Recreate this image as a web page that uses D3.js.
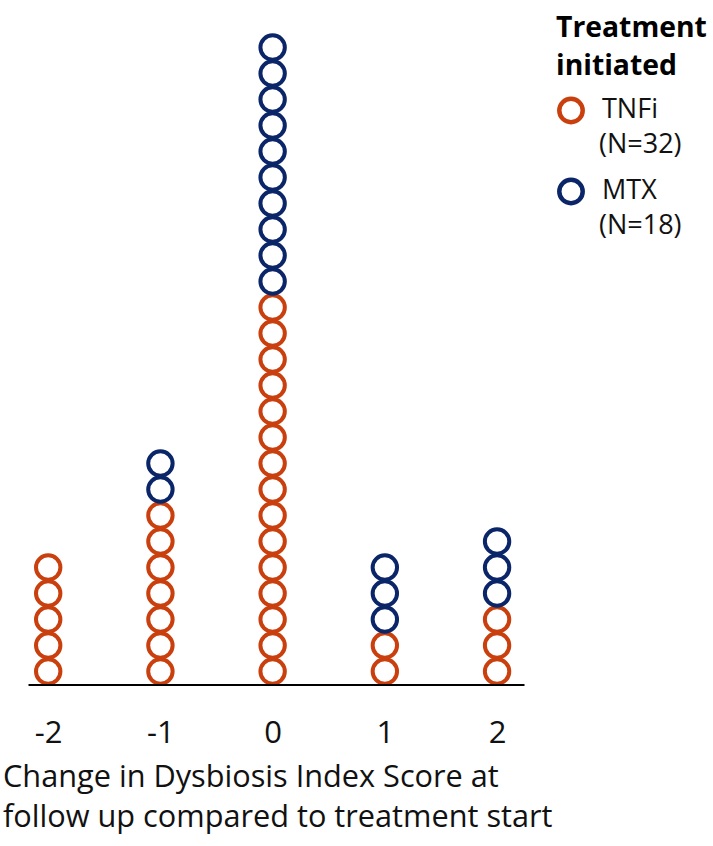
<!DOCTYPE html>
<html lang="en">
<head>
  <meta charset="UTF-8">
  <title>Dysbiosis Index dot plot</title>
  <style>
    body { margin: 0; background: #fff; }
    svg { display: block; font-family: "Open Sans", Lato, sans-serif; }
    .axis path { stroke: #000; stroke-width: 2.2px; }
    .axis text { font-family: "Open Sans", sans-serif; font-size: 31px; fill: #111; }
    .dot { fill: none; stroke-width: 4px; }
  </style>
</head>
<body>
  <div id="chart"></div>
  <script src="https://d3js.org/d3.v7.min.js"></script>
  <script>
    // data
    var scores = [-2, -1, 0, 1, 2]
    var tickLabels = ['-2', '-1', '0', '1', '2']
    var tnfiCounts = [5, 7, 15, 2, 3]
    var mtxCounts = [0, 2, 10, 3, 3]
    var seriesNames = ['TNFi', 'MTX']
    var seriesN = [32, 18]
    var colors = ['#c9400e', '#0b2569']

    var width = 713
    var height = 846
    var baseY = 684.5
    var step = 26

    var svg = d3.select('#chart')
      .append('svg')
      .attr('width', width)
      .attr('height', height)

    // shrink/grow a text so that it spans the given width
    function fitWidth (sel, target) {
      var size = parseFloat(sel.attr('font-size'))
      var w = sel.node().getComputedTextLength()
      var s = size * target / w
      sel.attr('font-size', s)
      return s
    }

    // x runs a little past the outer columns so the axis line sticks out
    var xScale = d3.scaleLinear()
      .domain([-2.18, 2.24])
      .range([28, 524])
    // y counts stacked circles
    var yScale = d3.scaleLinear()
      .domain([0, 25])
      .range([baseY, baseY - step * 25])

    // one record per circle: TNFi at the bottom, MTX on top
    var dots = []
    scores.forEach(function (s, i) {
      var k = 0
      for (var a = 0; a < tnfiCounts[i]; a++) dots.push({ score: s, level: k++, series: 0 })
      for (var b = 0; b < mtxCounts[i]; b++) dots.push({ score: s, level: k++, series: 1 })
    })

    svg.selectAll('.dot')
      .data(dots)
      .enter()
      .append('circle')
      .attr('class', 'dot')
      .attr('cx', function (d) { return xScale(d.score) })
      .attr('cy', function (d) { return yScale(d.level + 0.5) })
      .attr('r', 12.2)
      .attr('stroke', function (d) { return colors[d.series] })

    var xAxis = d3.axisBottom(xScale)
      .tickValues(scores)
      .tickFormat(function (d, i) { return tickLabels[i] })
      .tickSizeInner(0)
      .tickSizeOuter(0)

    var gx = svg.append('g')
      .attr('class', 'axis')
      .attr('transform', 'translate(0,' + baseY + ')')
      .call(xAxis)
    gx.selectAll('text')
      .attr('y', 58.5)
      .attr('dy', 0)
      .attr('font-family', null)
      .attr('font-size', null)

    // axis title, two lines
    var line1 = svg.append('text')
      .attr('x', 3)
      .attr('y', 787)
      .attr('font-size', 28)
      .attr('fill', '#111')
      .text('Change in Dysbiosis Index Score at')
    var titleSize = fitWidth(line1, 496)
    svg.append('text')
      .attr('x', 3)
      .attr('y', 827)
      .attr('font-size', titleSize)
      .attr('fill', '#111')
      .text('follow up compared to treatment start')

    // legend
    var legend = svg.append('g')
    var head1 = legend.append('text')
      .attr('x', 556)
      .attr('y', 37)
      .attr('font-size', 30)
      .attr('font-weight', 'bold')
      .text('Treatment')
    var headSize = fitWidth(head1, 151)
    legend.append('text')
      .attr('x', 556)
      .attr('y', 75)
      .attr('font-size', headSize)
      .attr('font-weight', 'bold')
      .text('initiated')

    var items = legend.selectAll('.item')
      .data(seriesNames)
      .enter()
      .append('g')
      .attr('class', 'item')
      .attr('transform', function (d, i) { return 'translate(0,' + (i * 81) + ')' })
    items.append('circle')
      .attr('cx', 571)
      .attr('cy', 110.5)
      .attr('r', 11.7)
      .attr('fill', 'none')
      .attr('stroke-width', 4.5)
      .attr('stroke', function (d, i) { return colors[i] })
    items.append('text')
      .attr('x', 602)
      .attr('y', 118)
      .attr('font-size', 27)
      .attr('fill', '#111')
      .text(function (d) { return d })
    items.append('text')
      .attr('x', 599)
      .attr('y', 153)
      .attr('font-size', 27)
      .attr('fill', '#111')
      .text(function (d, i) { return '(N=' + seriesN[i] + ')' })
  </script>
</body>
</html>
